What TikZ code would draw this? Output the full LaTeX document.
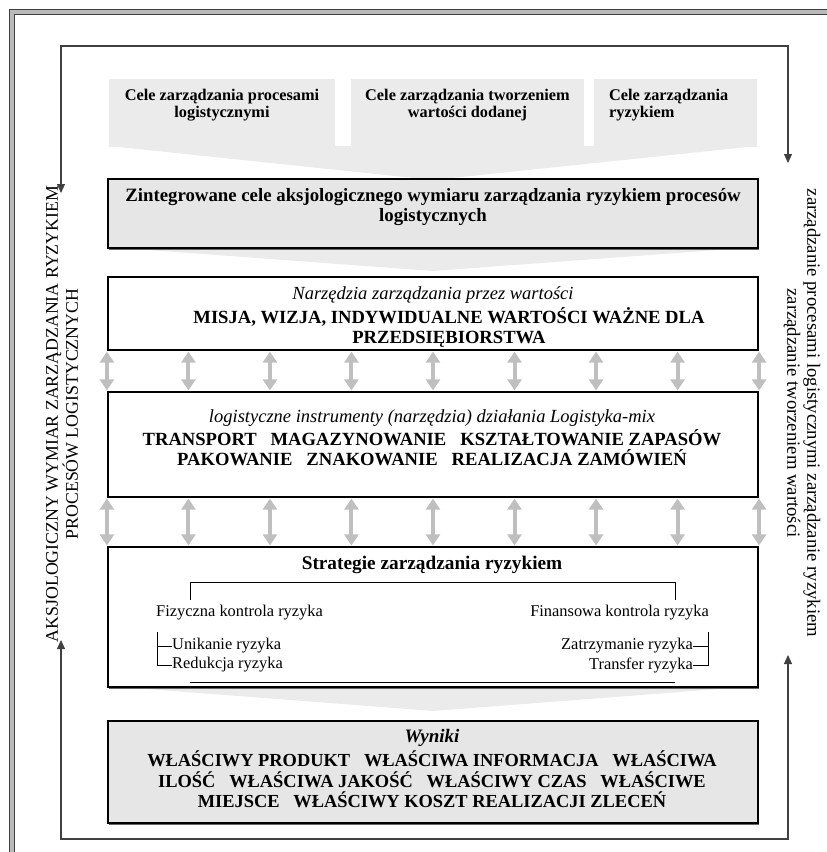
\documentclass[tikz,border=0pt]{standalone}
\usepackage{fontspec}
\setmainfont{Liberation Serif}
\newfontfamily\rotfont{Liberation Serif}
\usetikzlibrary{arrows.meta,calc,shadows}
\definecolor{boxgray}{HTML}{E6E6E6}
\definecolor{chevgray}{HTML}{EBEBEB}
\definecolor{arrgray}{HTML}{BFBFBF}
\definecolor{loopcol}{HTML}{404040}
\begin{document}
\begin{tikzpicture}[x=1pt,y=-1pt,
  topbox/.style={fill=chevgray, draw=none, inner sep=0pt, minimum height=68pt},
  framebox/.style={draw=black, line width=2.2pt, inner sep=0pt, minimum width=650pt},
  shadowed/.style={drop shadow={shadow xshift=1.2pt, shadow yshift=-1.5pt, fill=black!60, opacity=1}},
  dblarrow/.style={draw=arrgray, line width=4pt, {Triangle[width=14pt,length=11pt]}-{Triangle[width=14pt,length=11pt]}, shorten <=0.5pt, shorten >=0.5pt},
  loopline/.style={draw=loopcol, line width=1.2pt},
  looparrow/.style={loopline, -{Triangle[width=8pt,length=9pt]}},
  celetxt/.style={font=\fontsize{16.3}{17}\selectfont\bfseries, align=center, inner sep=0pt},
  headtxt/.style={font=\fontsize{18.8}{20}\selectfont\bfseries, align=center, inner sep=0pt},
  itltxt/.style={font=\fontsize{18.5}{20}\selectfont\itshape, inner sep=0pt},
  captxt/.style={font=\fontsize{18.6}{20}\selectfont\bfseries, align=center, inner sep=0pt},
  smalltxt/.style={font=\fontsize{16.4}{19}\selectfont, inner sep=0pt},
  rottxt/.style={font=\rotfont\fontsize{17.8}{20}\selectfont, align=center, inner sep=0pt},
  bracket/.style={draw=black, line width=0.9pt}
]
\useasboundingbox (0,0) rectangle (827,852);
% page frame
\draw[line width=5pt, gray!55] (12,852) -- (12,12) -- (827,12);
\draw[line width=1.1pt, black!75] (9.5,852) -- (9.5,9.5) -- (827,9.5);
\draw[line width=1.1pt, black!75] (14.5,852) -- (14.5,14.5) -- (827,14.5);

% top chevron with goal boxes
\fill[chevgray] (109,146) -- (757,146) -- (433,180) -- cycle;
\node[topbox, minimum width=226pt] (c1) at (222,113) {};
\node[topbox, minimum width=233pt] (c2) at (467.5,113) {};
\node[topbox, minimum width=163pt] (c3) at (675.5,113) {};
\node[celetxt] (c1t) at (222,105.5) {Cele zarządzania procesami\\logistycznymi};
\node[celetxt] (c2t) at (467.5,105.5) {Cele zarządzania tworzeniem\\wartości dodanej};
\node[celetxt, align=left, anchor=west] (c3t) at (609,105.5) {Cele zarządzania\\ryzykiem};

% chevrons under boxes
\fill[chevgray] (108,247) -- (758,247) -- (433,271) -- cycle;
\fill[chevgray] (108,686) -- (758,686) -- (433,711) -- cycle;

% integrated goals
\node[framebox, fill=boxgray, minimum height=69pt, shadowed] (zint) at (433,213.5) {};
\node[headtxt] (zintt) at (433,207) {Zintegrowane cele aksjologicznego wymiaru zarządzania ryzykiem procesów\\logistycznych};

% tools of management by values
\node[framebox, fill=white, minimum height=73pt] (narz) at (433,313.5) {};
\node[itltxt] (narzi) at (433,295) {Narzędzia zarządzania przez wartości};
\node[captxt] (narzb) at (449,327) {MISJA, WIZJA, INDYWIDUALNE WARTOŚCI WAŻNE DLA\\PRZEDSIĘBIORSTWA};

% logistics mix
\node[framebox, fill=white, minimum height=105pt] (logi) at (433,444.5) {};
\node[itltxt] (logii) at (432,418) {logistyczne instrumenty (narzędzia) działania Logistyka-mix};
\node[captxt] (logib) at (432,448) {TRANSPORT\ \ \ MAGAZYNOWANIE\ \ \ KSZTAŁTOWANIE ZAPASÓW\\PAKOWANIE\ \ \ ZNAKOWANIE\ \ \ REALIZACJA ZAMÓWIEŃ};

% risk strategies
\node[framebox, fill=white, minimum height=140pt, shadowed] (strat) at (433,617) {};
\node[font=\fontsize{19.3}{20}\selectfont\bfseries, inner sep=0pt] (stratt) at (432,565) {Strategie zarządzania ryzykiem};
\node[smalltxt, anchor=west] (fiz) at (156,613) {Fizyczna kontrola ryzyka};
\node[smalltxt, anchor=east] (fin) at (709,613) {Finansowa kontrola ryzyka};
\node[smalltxt, anchor=west] (unik) at (172,646) {Unikanie ryzyka};
\node[smalltxt, anchor=west] (red) at (172,665) {Redukcja ryzyka};
\node[smalltxt, anchor=east] (zatr) at (693,646) {Zatrzymanie ryzyka};
\node[smalltxt, anchor=east] (trans) at (693,665) {Transfer ryzyka};
\draw[bracket] (190,600) -- (190,582) -- (675,582) -- (675,600);
\draw[bracket] (157,632) |- (unik.west);
\draw[bracket] (157,640) |- (red.west);
\draw[bracket] (708,632) |- (zatr.east);
\draw[bracket] (708,640) |- (trans.east);
\draw[bracket] (190,682) -- (675,682);

% results
\node[framebox, fill=boxgray, minimum height=102pt, shadowed] (wyn) at (433,772) {};
\node[font=\fontsize{19}{20}\selectfont\bfseries\itshape, inner sep=0pt] (wyni) at (432,738) {Wyniki};
\node[captxt, font=\fontsize{18.4}{20.5}\selectfont\bfseries] (wynb) at (432,779.5) {WŁAŚCIWY PRODUKT\ \ \ WŁAŚCIWA INFORMACJA\ \ \ WŁAŚCIWA\\ILOŚĆ\ \ \ WŁAŚCIWA JAKOŚĆ\ \ \ WŁAŚCIWY CZAS\ \ \ WŁAŚCIWE\\MIEJSCE\ \ \ WŁAŚCIWY KOSZT REALIZACJI ZLECEŃ};

% double arrows between layers
\foreach \i in {0,...,8} {
  \draw[dblarrow] ($(narz.south west)!\i/8!(narz.south east)$) -- ($(logi.north west)!\i/8!(logi.north east)$);
  \draw[dblarrow] ($(logi.south west)!\i/8!(logi.south east)$) -- ($(strat.north west)!\i/8!(strat.north east)$);
}

% side texts
\node[rottxt, rotate=90] (ltxt) at (62,414) {AKSJOLOGICZNY WYMIAR ZARZĄDZANIA RYZYKIEM\\PROCESÓW LOGISTYCZNYCH};
\node[rottxt, font=\rotfont\fontsize{18.7}{20}\selectfont, rotate=-90] (rtxt) at (802,413) {zarządzanie procesami logistycznymi zarządzanie ryzykiem\\zarządzanie tworzeniem wartości};

% feedback loop
\coordinate (tl) at (61,46);
\coordinate (tr) at (788,46);
\coordinate (bl) at (61,839);
\coordinate (br) at (788,839);
\coordinate (lin) at (61,193);
\coordinate (rin) at (788,163);
\coordinate (lout) at (61,640);
\coordinate (rout) at (788,655);
\draw[looparrow] (tr) -- (tl) -- (lin);
\draw[looparrow] (tl) -- (tr) -- (rin);
\draw[looparrow] (br) -- (bl) -- (lout);
\draw[looparrow] (bl) -- (br) -- (rout);
\end{tikzpicture}
\end{document}
